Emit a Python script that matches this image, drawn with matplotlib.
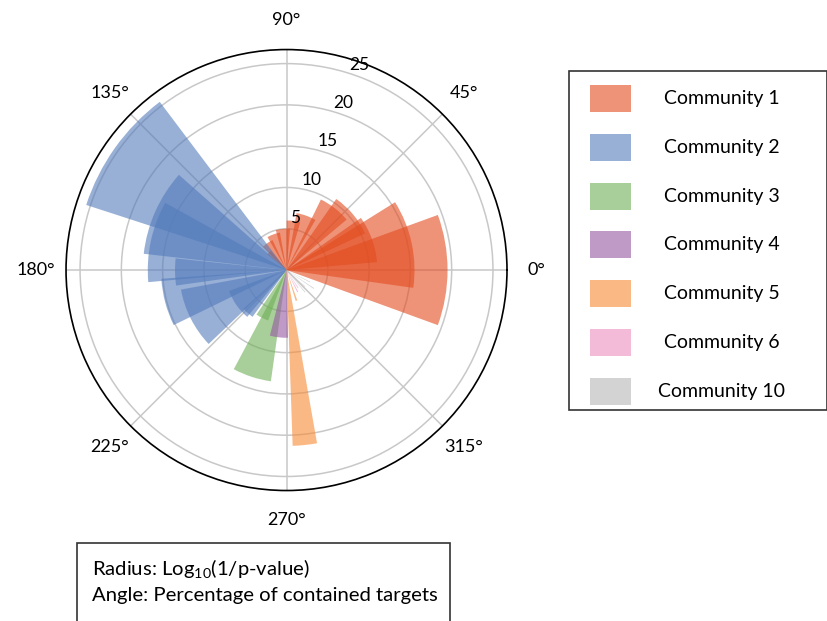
import numpy as np
import matplotlib
matplotlib.use("Agg")
import matplotlib.pyplot as plt
from matplotlib.patches import Rectangle

plt.rcParams['font.family'] = ['Lato', 'DejaVu Sans']
plt.rcParams['mathtext.default'] = 'regular'

# ---- data: (center angle deg, angular width deg, radius) ----
communities = ["Community 1", "Community 2", "Community 3", "Community 4",
               "Community 5", "Community 6", "Community 10"]
colors = ["#e34b1e", "#537bbb", "#6eaf55", "#9657a3", "#f88a34", "#ed8fbe", "#b6b6b6"]

c1_angle = [0, 12, 20, 40, 52, 70, 82, 95, 110, 125, 135]
c1_width = [40, 40, 30, 30, 24, 20, 16, 20, 20, 20, 12]
c1_r = [19.5, 15.5, 11.0, 10.5, 9.5, 7.0, 6.0, 5.0, 4.6, 4.0, 3.0]

c2_angle = [144.5, 156, 168, 181, 195, 207, 215, 228]
c2_width = [35, 35, 34, 14, 22, 33, 30, 12]
c2_r = [25.5, 17.4, 16.8, 13.5, 15.2, 13.0, 7.4, 7.0]

c3_angle = [252, 243]
c3_width = [20, 14]
c3_r = [13.6, 6.5]

c4_angle = [263.5]
c4_width = [15.5]
c4_r = [8.2]

c5_angle = [276, 288]
c5_width = [8, 3]
c5_r = [21.3, 3.9]

c6_angle = [297, 303]
c6_width = [2.5, 2]
c6_r = [3.0, 2.6]

c10_angle = [310, 318, 326, 333]
c10_width = [1.5, 1.5, 1.5, 1.5]
c10_r = [3.5, 3.0, 4.0, 3.2]

series = [(c1_angle, c1_width, c1_r), (c2_angle, c2_width, c2_r),
          (c3_angle, c3_width, c3_r), (c4_angle, c4_width, c4_r),
          (c5_angle, c5_width, c5_r), (c6_angle, c6_width, c6_r),
          (c10_angle, c10_width, c10_r)]

theta_ticks = [0, 45, 90, 135, 180, 225, 270, 315]
r_ticks = [5, 10, 15, 20, 25]
r_max = 26.7
ALPHA = 0.6

fig = plt.figure(figsize=(8.27, 6.21), dpi=100)
ax = fig.add_axes([0.0798, 0.2101, 0.5333, 0.7101], projection='polar')

for (ang, wid, rad), col in zip(series, colors):
    ax.bar(np.deg2rad(ang), rad, width=np.deg2rad(wid), bottom=0,
           color=col, alpha=ALPHA, edgecolor='none', linewidth=0, zorder=2)

ax.set_ylim(0, r_max)
ax.set_yticks(r_ticks)
ax.set_yticklabels([])
# radial labels placed just outside each ring
for t in r_ticks:
    rl = t + 1.35
    ax.text(np.deg2rad(67.5 + 80.0 / rl), rl, str(t), ha='center', va='center',
            fontsize=12.5, zorder=5)
ax.set_xticks(np.deg2rad(theta_ticks))
ax.set_xticklabels([f"{t}\u00b0" for t in theta_ticks], fontsize=13)
ax.xaxis.set_tick_params(pad=11)
ax.grid(True, color='#c8c8c8', linewidth=1.1)
for gl in ax.xaxis.get_gridlines() + ax.yaxis.get_gridlines():
    gl.set_zorder(3)
ax.spines['polar'].set_linewidth(1.2)
ax.spines['polar'].set_color('black')

# ---- legend box (drawn manually) ----
W, H = 827, 621
def fx(x): return x / W
def fy(y): return 1 - y / H

fig.patches.append(Rectangle((fx(568.5), fy(409.5)), fx(826.5) - fx(568.5),
                             fy(71.5) - fy(409.5), transform=fig.transFigure,
                             fill=False, edgecolor='#333333', linewidth=1.2))
row_y0, row_dy = 98.5, 48.8
for i, (name, col) in enumerate(zip(communities, colors)):
    yc = row_y0 + i * row_dy
    fig.patches.append(Rectangle((fx(590), fy(yc + 13.5)), fx(631) - fx(590),
                                 fy(yc - 13.5) - fy(yc + 13.5), transform=fig.transFigure,
                                 facecolor=col, alpha=ALPHA, edgecolor='none'))
    fig.text(fx(722), fy(yc), name, ha='center', va='center', fontsize=14)

# ---- annotation box ----
fig.patches.append(Rectangle((fx(76.5), fy(640)), fx(449.5) - fx(76.5),
                             fy(542.5) - fy(640), transform=fig.transFigure,
                             fill=False, edgecolor='#333333', linewidth=1.2))
fig.text(fx(92), fy(569), r"Radius: Log$_{10}$(1/p-value)", ha='left', va='center', fontsize=14.6)
fig.text(fx(92), fy(596), "Angle: Percentage of contained targets", ha='left', va='center', fontsize=14.6)

fig.savefig("out.png", dpi=100)
